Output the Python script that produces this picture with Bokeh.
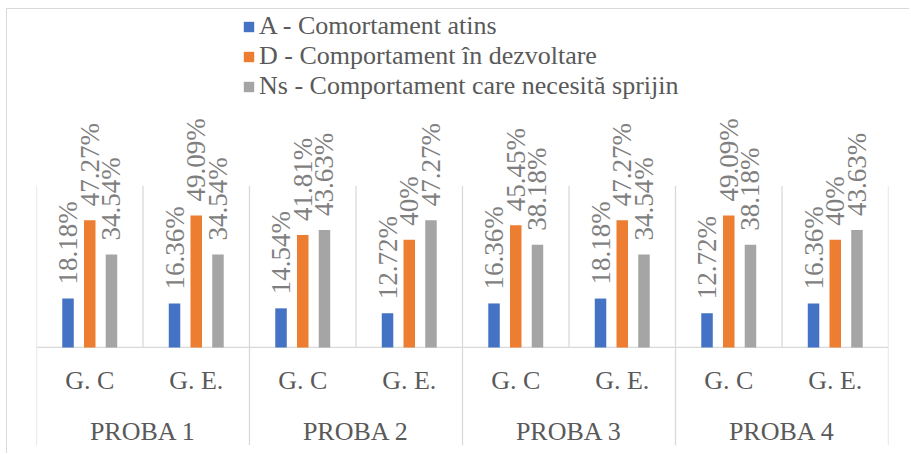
from bokeh.plotting import figure
from bokeh.models import FactorRange, Range1d, ColumnDataSource, Legend, LegendItem
from bokeh.transform import dodge
from bokeh.core.properties import value
from bokeh.embed import file_html
from bokeh.resources import INLINE

# ---- data ----
probe = ["PROBA 1", "PROBA 2", "PROBA 3", "PROBA 4"]
groups = ["G. C", "G. E."]
series_names = ["A - Comortament atins",
                "D - Comportament în dezvoltare",
                "Ns - Comportament care necesită sprijin"]
A_vals = [18.18, 16.36, 14.54, 12.72, 16.36, 18.18, 12.72, 16.36]
D_vals = [47.27, 49.09, 41.81, 40.00, 45.45, 47.27, 49.09, 40.00]
Ns_vals = [34.54, 34.54, 43.63, 47.27, 38.18, 34.54, 38.18, 43.63]
colors = ["#4472C4", "#ED7D31", "#A5A5A5"]

factors = [(pr, g) for pr in probe for g in groups]

def fmt(v):
    return f"{v:g}%"

src = ColumnDataSource(dict(
    x=factors,
    A=A_vals, D=D_vals, Ns=Ns_vals,
    A_lbl=[fmt(v) for v in A_vals],
    D_lbl=[fmt(v) for v in D_vals],
    Ns_lbl=[fmt(v) for v in Ns_vals],
    grp=[f[1] for f in factors],
))

FONTNAME = "Liberation Serif"
FONT = value(FONTNAME)
W, H = 903, 445

xr = FactorRange(*factors, factor_padding=0, group_padding=0, range_padding=0)
p = figure(width=W, height=H, x_range=xr, y_range=Range1d(-39.8, 125.65),
           output_backend="svg", toolbar_location=None,
           x_axis_location=None, y_axis_location=None,
           min_border_left=29, min_border_right=W - 881,
           min_border_top=0, min_border_bottom=0)
p.margin = (8, 0, 0, 6)
p.outline_line_color = None
p.grid.visible = False
p.background_fill_color = "white"
p.border_fill_color = "white"
p.styles = {"border-top": "1px solid #D9D9D9", "border-left": "1px solid #D9D9D9",
            "box-sizing": "border-box"}

LINE = "#D9D9D9"
n = len(factors)
# vertical gridlines at category boundaries (plot area 0..60)
p.segment(x0=list(range(n + 1)), x1=list(range(n + 1)), y0=0, y1=60,
          line_color=LINE, line_width=1.3)
# group separators below axis
p.segment(x0=list(range(0, n + 1, 2)), x1=list(range(0, n + 1, 2)), y0=0, y1=-36.4,
          line_color=LINE, line_width=1.3)
# baseline
p.segment(x0=0, x1=n, y0=0, y1=0, line_color=LINE, line_width=1.3)

offsets = [-0.204, 0.0, 0.204]
keys = ["A", "D", "Ns"]
renderers = []
for k, off, c in zip(keys, offsets, colors):
    r = p.vbar(x=dodge("x", off, range=xr), top=k, width=0.108, bottom=0,
               source=src, fill_color=c, line_color=None)
    renderers.append(r)
    p.text(x=dodge("x", off, range=xr), y=k, text=k + "_lbl", source=src,
           angle=1.5708, text_align="left", text_baseline="middle",
           y_offset=-14, text_font=FONT, text_font_size="27px",
           text_color="#7F7F7F")

# category labels
p.text(x="x", y=-12.3, text="grp", source=src, text_align="center",
       text_baseline="middle", text_font=FONT, text_font_size="26px",
       text_color="#595959")
psrc = ColumnDataSource(dict(x=probe, t=probe))
p.text(x="x", y=-31.2, text="t", source=psrc, text_align="center",
       text_baseline="middle", text_font=FONT, text_font_size="26px",
       text_color="#595959")

legend = Legend(items=[LegendItem(label=nm, renderers=[r])
                       for nm, r in zip(series_names, renderers)],
                location=(206, 353), orientation="vertical",
                glyph_width=13, glyph_height=13, label_height=26,
                label_standoff=4, spacing=0, padding=0, margin=0,
                label_text_font=FONTNAME, label_text_font_size="26px",
                label_text_color="#595959",
                border_line_color=None, background_fill_alpha=0)
p.add_layout(legend)

open("out.html", "w").write(file_html(p, INLINE))
